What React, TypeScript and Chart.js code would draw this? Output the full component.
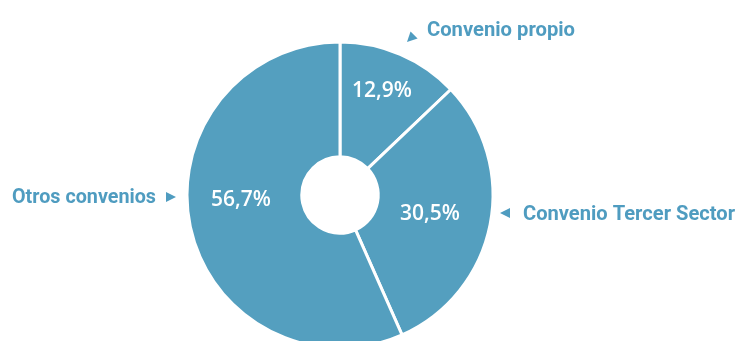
import React, { useEffect, useRef } from "react";
import { Chart, registerables } from "chart.js";

Chart.register(...registerables);

// ---- data ----
const categories = ["Convenio propio", "Convenio Tercer Sector", "Otros convenios"];
const shares = [12.9, 30.5, 56.7];
const shareLabels = ["12,9%", "30,5%", "56,7%"];

// ---- styling ----
const FILL = "#549fbf";
const TEXT = "#4f9cc0";

// value text placement relative to the pie centre: [dx, baseline dy]
const valuePlacement = [
  [42, -98],
  [90, 25],
  [-99, 11],
];
// category text placement relative to pie centre: [x, baseline dy, align, maxWidth]
const catPlacement: [number, number, CanvasTextAlign, number][] = [
  [87, -159, "left", 148],
  [183, 25, "left", 212],
  [-184, 8, "right", 144],
];
// arrow tips relative to pie centre and pointing direction
const arrowPlacement = [
  { x: 67, y: -153, dx: -1, dy: 1 },
  { x: 160, y: 18, dx: -1, dy: 0 },
  { x: -164, y: 2, dx: 1, dy: 0 },
];

const labelPlugin = {
  id: "pieLabels",
  afterDatasetsDraw(chart: any) {
    const meta = chart.getDatasetMeta(0);
    const arc = meta.data[0];
    if (!arc) return;
    const cx = arc.x;
    const cy = arc.y;
    const ctx = chart.ctx as CanvasRenderingContext2D;
    ctx.save();
    // values
    ctx.fillStyle = "#ffffff";
    ctx.font = "600 21px 'Open Sans'";
    ctx.textAlign = "center";
    ctx.textBaseline = "alphabetic";
    shareLabels.forEach((t, i) => {
      const [dx, dy] = valuePlacement[i];
      ctx.fillText(t, cx + dx, cy + dy);
    });
    // categories
    ctx.fillStyle = TEXT;
    ctx.font = "bold 21px Roboto";
    categories.forEach((t, i) => {
      const [dx, dy, align, mw] = catPlacement[i];
      ctx.textAlign = align;
      ctx.fillText(t, cx + dx, cy + dy, mw);
    });
    // arrows
    arrowPlacement.forEach((a) => {
      const len = Math.hypot(a.dx, a.dy);
      const ux = a.dx / len;
      const uy = a.dy / len;
      const L = 10;
      const W = 5;
      const tx = cx + a.x;
      const ty = cy + a.y;
      const bx = tx - ux * L;
      const by = ty - uy * L;
      ctx.beginPath();
      ctx.moveTo(tx, ty);
      ctx.lineTo(bx - uy * W, by + ux * W);
      ctx.lineTo(bx + uy * W, by - ux * W);
      ctx.closePath();
      ctx.fill();
    });
    ctx.restore();
  },
};

export default function App() {
  const ref = useRef<HTMLCanvasElement | null>(null);
  useEffect(() => {
    if (!ref.current) return;
    const chart = new Chart(ref.current, {
      type: "doughnut",
      data: {
        labels: categories,
        datasets: [
          {
            data: shares,
            backgroundColor: FILL,
            borderColor: "#ffffff",
            borderWidth: 3,
            hoverOffset: 0,
            clip: false as any,
          },
        ],
      },
      options: {
        responsive: false,
        animation: false,
        radius: 153,
        cutout: "25%",
        rotation: 0,
        layout: { padding: { left: 0, right: 57, top: 49, bottom: 0 } },
        plugins: {
          legend: { display: false },
          tooltip: { enabled: false },
        },
        events: [],
      } as any,
      plugins: [labelPlugin],
    });
    return () => chart.destroy();
  }, []);
  return (
    <div
      style={{
        position: "fixed",
        left: 0,
        top: 0,
        width: 737,
        height: 341,
        overflow: "hidden",
        background: "#ffffff",
      }}
    >
      <canvas ref={ref} width={737} height={341} style={{ display: "block" }} />
    </div>
  );
}
